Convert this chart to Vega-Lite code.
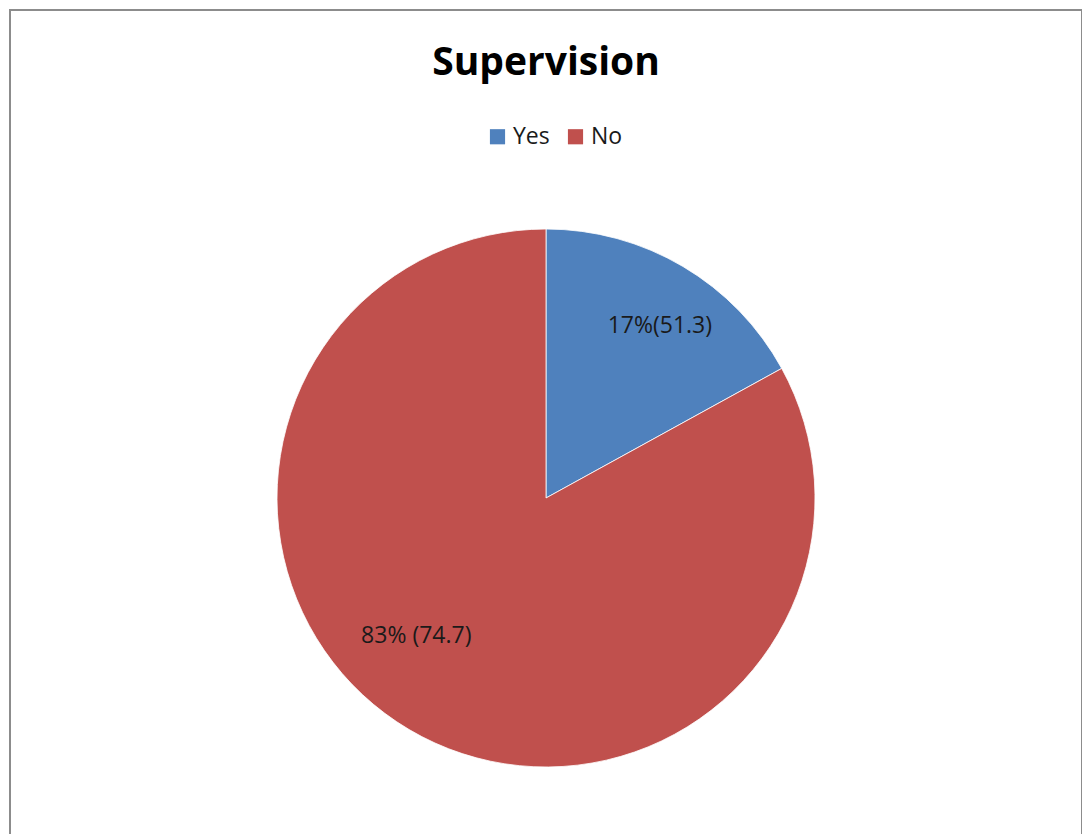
{
  "$schema": "https://vega.github.io/schema/vega-lite/v6.json",
  "width": 1072,
  "height": 976,
  "padding": {"left": 10, "top": 10, "right": 0, "bottom": 0},
  "background": "white",
  "view": {"stroke": "#8c8c8c", "strokeWidth": 2, "fill": "white"},
  "title": {
    "text": "Supervision",
    "font": "Open Sans",
    "fontSize": 39,
    "fontWeight": "bold",
    "color": "#000000",
    "anchor": "middle",
    "frame": "group",
    "baseline": "alphabetic",
    "offset": -104
  },
  "config": {
    "view": {"stroke": "#8c8c8c", "strokeWidth": 2},
    "legend": {"padding": 0}
  },
  "data": {
    "values": [
      {"answer": "Yes", "percent": 17, "label": "17%(51.3)"},
      {"answer": "No", "percent": 83, "label": "83% (74.7)"}
    ]
  },
  "encoding": {
    "theta": {"field": "percent", "type": "quantitative", "stack": true},
    "order": {"field": "answer", "sort": "descending"}
  },
  "layer": [
    {
      "mark": {"type": "arc", "radius": 269, "stroke": "#ffffff", "strokeWidth": 0.8},
      "encoding": {
        "color": {
          "field": "answer",
          "type": "nominal",
          "scale": {"domain": ["Yes", "No"], "range": ["#4F81BD", "#C0504D"]},
          "legend": {
            "title": null,
            "orient": "none",
            "direction": "horizontal",
            "legendX": 476,
            "legendY": 115,
            "symbolType": "square",
            "symbolSize": 230,
            "symbolStrokeWidth": 0,
            "labelFont": "Open Sans",
            "labelFontSize": 23,
            "labelColor": "#1a1a1a",
            "labelOffset": 4,
            "columnPadding": 14
          }
        }
      }
    },
    {
      "mark": {"type": "text", "radius": 206, "font": "Open Sans", "fontSize": 23, "color": "#1a1a1a", "dx": 9, "dy": 5},
      "encoding": {
        "text": {"condition": {"test": "datum.answer == 'Yes'", "field": "label"}, "value": ""}
      }
    },
    {
      "mark": {"type": "text", "radius": 190, "font": "Open Sans", "fontSize": 23, "color": "#1a1a1a", "dx": -33, "dy": -26},
      "encoding": {
        "text": {"condition": {"test": "datum.answer == 'No'", "field": "label"}, "value": ""}
      }
    }
  ]
}
